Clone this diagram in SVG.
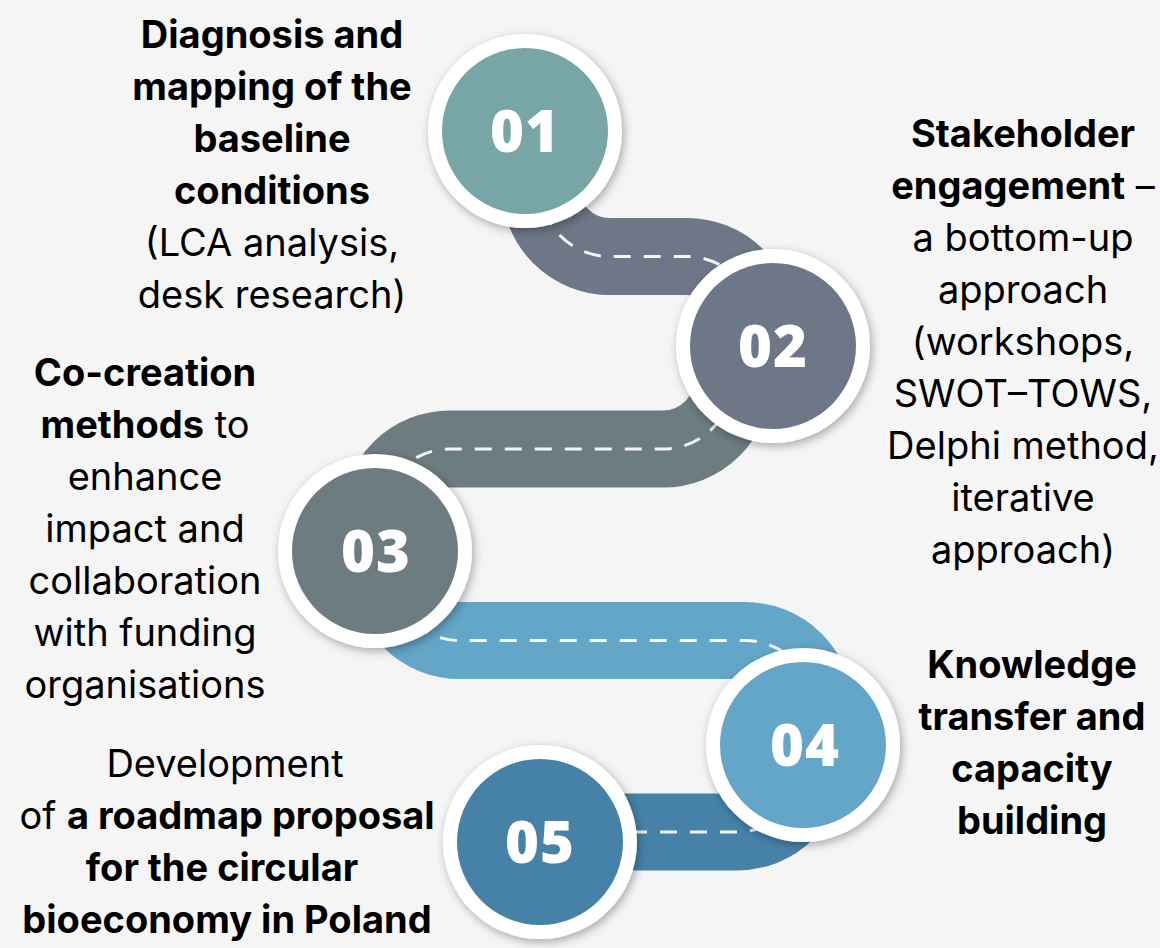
<svg xmlns="http://www.w3.org/2000/svg" width="1160" height="948" viewBox="0 0 1160 948">
<defs>
<style>
.road{fill:none;stroke-width:77;stroke-linecap:butt;stroke-linejoin:round}
.dash{fill:none;stroke:#ffffff;stroke-width:3;stroke-dasharray:17 13;stroke-opacity:0.92}
.ring{fill:#ffffff;filter:url(#sh)}
.num{font-family:"Open Sans","Liberation Sans",sans-serif;font-weight:800;font-size:58px;fill:#ffffff;text-anchor:middle;letter-spacing:1px}
.lbl{font-family:Inter,"Liberation Sans",sans-serif;font-size:38px;fill:#000000;text-anchor:middle}
.b{font-weight:700}
</style>
<filter id="sh" x="-25%" y="-25%" width="150%" height="150%">
<feDropShadow dx="2" dy="3" stdDeviation="5" flood-color="#000000" flood-opacity="0.32"/>
</filter>
</defs>
<rect x="0" y="0" width="1160" height="948" fill="#f5f5f5"/>
<g id="connectors">
<path class="road" stroke="#6e7787" d="M540,150 L540,186.5 A70,70 0 0 0 610,256.5 L687,256.5 A70,70 0 0 1 757,326.5 L757,370"/>
<path class="dash" d="M540,150 L540,186.5 A70,70 0 0 0 610,256.5 L687,256.5 A70,70 0 0 1 757,326.5 L757,370"/>
<path class="road" stroke="#6d7c81" d="M733,330 L733,379 A70,70 0 0 1 663,449 L450,449 A70,70 0 0 0 380,519 L380,560"/>
<path class="dash" d="M733,330 L733,379 A70,70 0 0 1 663,449 L450,449 A70,70 0 0 0 380,519 L380,560"/>
<path class="road" stroke="#64a6c8" d="M390,540 L390,570.5 A70,70 0 0 0 460,640.5 L745,640.5 A70,70 0 0 1 815,710.5 L815,760"/>
<path class="dash" d="M390,540 L390,570.5 A70,70 0 0 0 460,640.5 L745,640.5 A70,70 0 0 1 815,710.5 L815,760"/>
<path class="road" stroke="#4682a8" d="M540,832 L737,832 A70,70 0 0 0 807,762 L807,730"/>
<path class="dash" d="M540,832 L737,832 A70,70 0 0 0 807,762 L807,730"/>
</g>
<g id="node-01">
<circle class="ring" cx="525" cy="131" r="97"/>
<circle cx="525" cy="131" r="83" fill="#78a6a7"/>
<text class="num" x="525" y="152">01</text>
<text class="lbl"><tspan class="b" x="272" y="48">Diagnosis and</tspan><tspan class="b" x="272" y="100">mapping of the</tspan><tspan class="b" x="272" y="152">baseline</tspan><tspan class="b" x="272" y="204">conditions</tspan><tspan x="272" y="256">(LCA analysis,</tspan><tspan x="272" y="308">desk research)</tspan></text>
</g>
<g id="node-02">
<circle class="ring" cx="773" cy="346" r="97"/>
<circle cx="773" cy="346" r="83" fill="#6e7787"/>
<text class="num" x="773" y="367">02</text>
<text class="lbl" x="1023" y="147"><tspan class="b">Stakeholder</tspan></text>
<text class="lbl" x="1023" y="199"><tspan class="b">engagement</tspan> –</text>
<text class="lbl"><tspan x="1023" y="251">a bottom-up</tspan><tspan x="1023" y="303">approach</tspan><tspan x="1023" y="355">(workshops,</tspan><tspan x="1023" y="407">SWOT–TOWS,</tspan><tspan x="1023" y="459">Delphi method,</tspan><tspan x="1023" y="511">iterative</tspan><tspan x="1023" y="563">approach)</tspan></text>
</g>
<g id="node-03">
<circle class="ring" cx="375" cy="551" r="97"/>
<circle cx="375" cy="551" r="83" fill="#6d7c81"/>
<text class="num" x="376" y="572">03</text>
<text class="lbl" x="145" y="386"><tspan class="b">Co-creation</tspan></text>
<text class="lbl" x="145" y="438"><tspan class="b">methods</tspan> to</text>
<text class="lbl"><tspan x="145" y="490">enhance</tspan><tspan x="145" y="542">impact and</tspan><tspan x="145" y="594">collaboration</tspan><tspan x="145" y="646">with funding</tspan><tspan x="145" y="698">organisations</tspan></text>
</g>
<g id="node-04">
<circle class="ring" cx="803" cy="745" r="97"/>
<circle cx="803" cy="745" r="83" fill="#64a6c8"/>
<text class="num" x="805" y="766">04</text>
<text class="lbl b"><tspan x="1032" y="678">Knowledge</tspan><tspan x="1032" y="730">transfer and</tspan><tspan x="1032" y="782">capacity</tspan><tspan x="1032" y="834">building</tspan></text>
</g>
<g id="node-05">
<circle class="ring" cx="540" cy="842" r="97"/>
<circle cx="540" cy="842" r="83" fill="#4682a8"/>
<text class="num" x="540" y="863">05</text>
<text class="lbl" x="225" y="777">Development</text>
<text class="lbl" x="227" y="829">of <tspan class="b">a roadmap proposal</tspan></text>
<text class="lbl b" x="222" y="881">for the circular</text>
<text class="lbl b" x="227" y="933">bioeconomy in Poland</text>
</g>
</svg>
